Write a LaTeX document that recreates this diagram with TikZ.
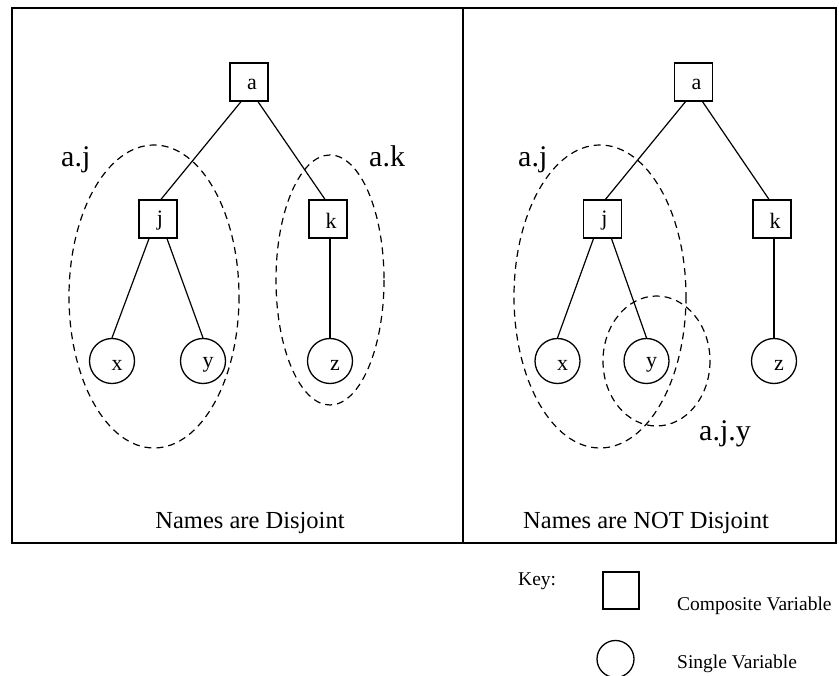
\documentclass[tikz,border=0pt]{standalone}
\usepackage{fontspec}
\setmainfont{Liberation Serif}
\begin{document}
\begin{tikzpicture}[x=1pt,y=-1pt,
  comp/.style={draw,line width=1.3pt,minimum width=38pt,minimum height=38pt,inner sep=0pt},
  single/.style={draw,circle,line width=1.3pt,minimum size=45pt,inner sep=0pt},
  lbl/.style={font=\fontsize{22}{26}\selectfont},
  edge/.style={line width=1.2pt},
  scopebound/.style={line width=1.2pt,dash pattern=on 7pt off 5pt},
  biglabel/.style={font=\fontsize{30}{36}\selectfont,anchor=base west,inner sep=0pt},
  caption/.style={font=\fontsize{24.5}{29}\selectfont,anchor=base,inner sep=0pt},
  keytext/.style={font=\fontsize{19.5}{23}\selectfont,anchor=base west,inner sep=0pt}]
\useasboundingbox (0,0) rectangle (839,676);
% frame
\draw[line width=1.6pt] (12,8) rectangle (836,543);
\draw[line width=1.6pt] (463,8) -- (463,543);

% ---------- left panel ----------
\node[comp,label={[lbl,xshift=3,yshift=-2]center:a}] (la) at (249,82) {};
\node[comp,label={[lbl,xshift=2,yshift=-2]center:j}] (lj) at (158,219) {};
\node[comp,label={[lbl,xshift=3,yshift=-2]center:k}] (lk) at (328,219) {};
\node[single,label={[lbl,xshift=5,yshift=-4]center:x}] (lx) at (112,361) {};
\node[single,label={[lbl,xshift=5,yshift=-4]center:y}] (ly) at (203,361) {};
\node[single,label={[lbl,xshift=5,yshift=-4]center:z}] (lz) at (330,361) {};
\draw[edge] ([xshift=-8]la.south) -- ([xshift=3]lj.north);
\draw[edge] ([xshift=9]la.south) -- ([xshift=-3]lk.north);
\draw[edge] ([xshift=-9]lj.south) -- (lx.north);
\draw[edge] ([xshift=9]lj.south) -- (ly.north);
\draw[edge] ([xshift=2]lk.south) -- (lz.north);
\draw[scopebound] (154,296.5) ellipse [x radius=85, y radius=151.5];
\draw[scopebound] (330,280) ellipse [x radius=54, y radius=125];
\node[biglabel] (laj) at (61,167) {a.j};
\node[biglabel] (lak) at (369,167) {a.k};
\node[caption] (lcap) at (250,529) {Names are Disjoint};

% ---------- right panel ----------
\node[comp,label={[lbl,xshift=3,yshift=-2]center:a}] (ra) at (693.5,82) {};
\node[comp,label={[lbl,xshift=2,yshift=-2]center:j}] (rj) at (602.5,219) {};
\node[comp,label={[lbl,xshift=3,yshift=-2]center:k}] (rk) at (772,219) {};
\node[single,label={[lbl,xshift=5,yshift=-4]center:x}] (rx) at (557.5,361) {};
\node[single,label={[lbl,xshift=5,yshift=-4]center:y}] (ry) at (646.5,361) {};
\node[single,label={[lbl,xshift=5,yshift=-4]center:z}] (rz) at (774,361) {};
\draw[edge] ([xshift=-8]ra.south) -- ([xshift=3]rj.north);
\draw[edge] ([xshift=9]ra.south) -- ([xshift=-3]rk.north);
\draw[edge] ([xshift=-9]rj.south) -- (rx.north);
\draw[edge] ([xshift=9]rj.south) -- (ry.north);
\draw[edge] ([xshift=2]rk.south) -- (rz.north);
\draw[scopebound] (600,296.5) ellipse [x radius=86, y radius=151.5];
\draw[scopebound] (656.5,361) ellipse [x radius=53.5, y radius=65];
\node[biglabel] (raj) at (518,167) {a.j};
\node[biglabel] (rajy) at (699,441) {a.j.y};
\node[caption] (rcap) at (646,529) {Names are NOT Disjoint};

% ---------- key ----------
\node[keytext] (key) at (518,585) {Key:};
\node[draw,line width=1.3pt,minimum width=36pt,minimum height=37pt,inner sep=0pt] (kbox) at (621,590.5) {};
\node[keytext] (kcomp) at (677,610) {Composite Variable};
\node[draw,circle,line width=1.3pt,minimum size=37pt,inner sep=0pt] (kcirc) at (615.5,659) {};
\node[keytext] (ksing) at (677,668) {Single Variable};
\end{tikzpicture}
\end{document}
